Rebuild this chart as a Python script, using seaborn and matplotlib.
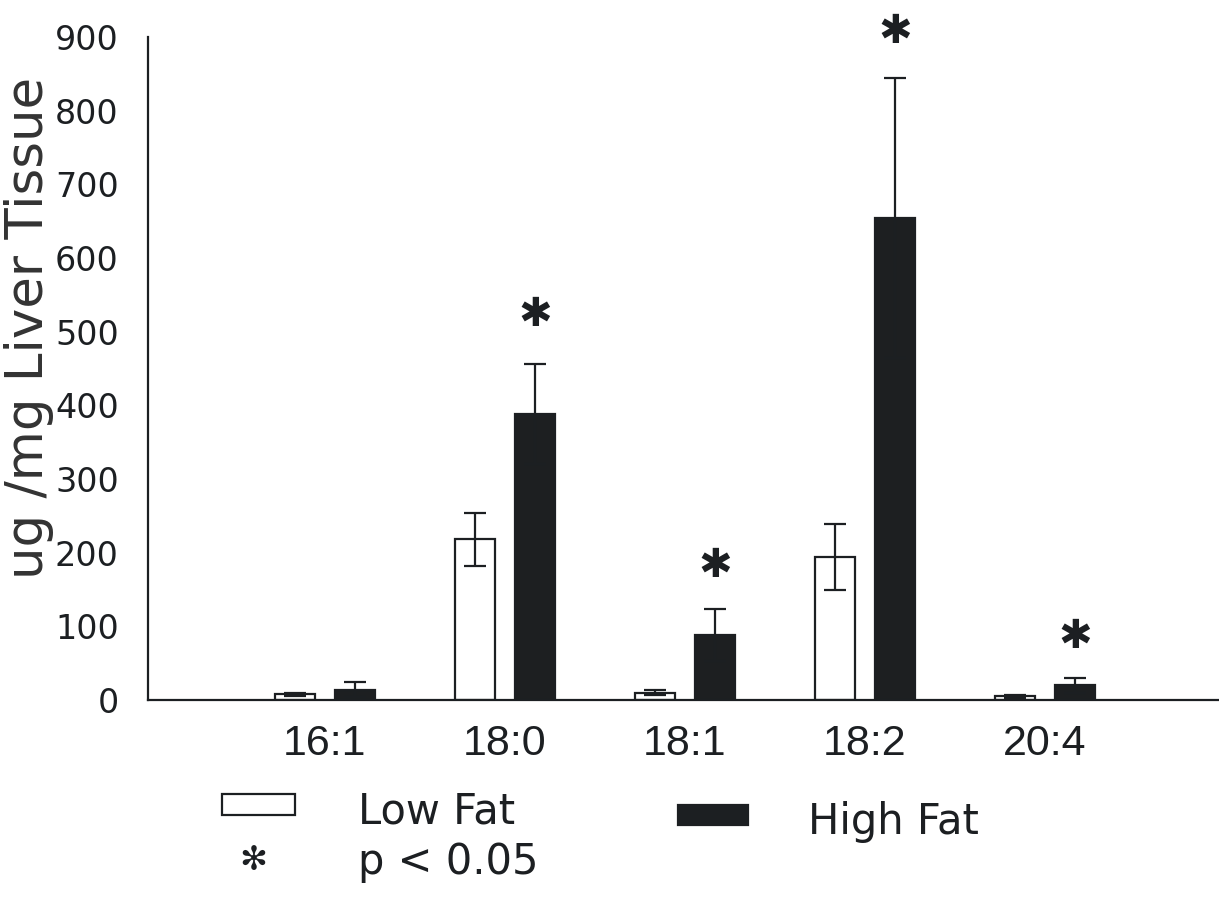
import numpy as np
import pandas as pd
import matplotlib
matplotlib.use("Agg")
import matplotlib.pyplot as plt
from matplotlib.patches import Rectangle
import seaborn as sns

categories = ["16:1", "18:0", "18:1", "18:2", "20:4"]
groups = ["Low Fat", "High Fat"]
low_fat = [8, 218, 10, 194, 5]
low_err = [2, 36, 3, 45, 2]
high_fat = [14, 388, 88, 654, 20]
high_err = [10, 68, 35, 190, 10]
star_y = [np.nan, 522, 182, 907, 85]
yticks = [0, 100, 200, 300, 400, 500, 600, 700, 800, 900]

df = pd.DataFrame({
    "acid": categories * 2,
    "group": [groups[0]] * len(categories) + [groups[1]] * len(categories),
    "value": low_fat + high_fat,
})

sns.set_theme(style="white")
plt.rcParams["font.family"] = ["DejaVu Sans"]

fig = plt.figure(figsize=(12.19, 8.98), dpi=100)
ax = fig.add_axes([148 / 1219, (898 - 700) / 898, 1 - 148 / 1219, 700 / 898])

ink = "#1c1f22"
sns.barplot(data=df, x="acid", y="value", hue="group", order=categories,
            hue_order=groups, palette={"Low Fat": "white", "High Fat": ink},
            width=0.667, gap=0.34, edgecolor=ink, linewidth=1.6,
            errorbar=None, legend=False, ax=ax)

# error bars from patch positions
errs = low_err + high_err
vals = low_fat + high_fat
patches = [p for p in ax.patches if isinstance(p, Rectangle)][:len(vals)]
for p, v, e in zip(patches, vals, errs):
    xc = p.get_x() + p.get_width() / 2
    ax.errorbar(xc, v, yerr=e, fmt="none", ecolor=ink, elinewidth=1.6,
                capsize=8, capthick=1.6, zorder=1)

# significance stars over high-fat bars
high_patches = patches[len(categories):]
for p, sy in zip(high_patches, star_y):
    if np.isnan(sy):
        continue
    xc = p.get_x() + p.get_width() / 2
    ax.text(xc, sy, "\u2731", ha="center", va="center", fontsize=29, color=ink)

ax.set_xlim(-0.983, 4.967)
ax.set_ylim(0, 950)
ax.set_yticks(yticks)
ax.set_yticklabels([str(t) for t in yticks], fontsize=24, color=ink)
ax.tick_params(axis="y", direction="in", length=8, width=1.5, colors=ink, pad=21)
ax.tick_params(axis="x", length=0, pad=17, labelsize=31, colors=ink)
for lab in ax.get_xticklabels():
    lab.set_fontfamily("Liberation Sans")
ax.set_xlabel("")
ax.set_ylabel("")
for s in ["top", "right"]:
    ax.spines[s].set_visible(False)
ax.spines["left"].set_bounds(0, 900)
ax.spines["left"].set_color(ink)
ax.spines["bottom"].set_color(ink)
ax.spines["left"].set_linewidth(1.6)
ax.spines["bottom"].set_linewidth(1.6)

fig.text(4 / 1219, 1 - 328 / 898, "ug /mg Liver Tissue", rotation=90,
         ha="left", va="center", fontsize=37, color="#333333")

# legend (manual layout)
W, H = 1219, 898
def fx(px):
    return px / W
def fy(py):
    return 1 - py / H
fig.add_artist(Rectangle((fx(222), fy(815)), fx(295) - fx(222), fy(794) - fy(815),
                         transform=fig.transFigure, facecolor="white",
                         edgecolor=ink, linewidth=1.6))
fig.add_artist(Rectangle((fx(678), fy(825)), fx(748) - fx(678), fy(805) - fy(825),
                         transform=fig.transFigure, facecolor=ink,
                         edgecolor=ink, linewidth=1.6))
fig.text(fx(358), fy(812), "Low Fat", ha="left", va="center", fontsize=30, color=ink)
fig.text(fx(808), fy(822), "High Fat", ha="left", va="center", fontsize=30, color=ink)
fig.text(fx(253), fy(860), "\u273B", ha="center", va="center", fontsize=24, color=ink)
fig.text(fx(358), fy(862), "p < 0.05", ha="left", va="center", fontsize=30, color=ink)

fig.savefig("out.png", dpi=100, facecolor="white")
